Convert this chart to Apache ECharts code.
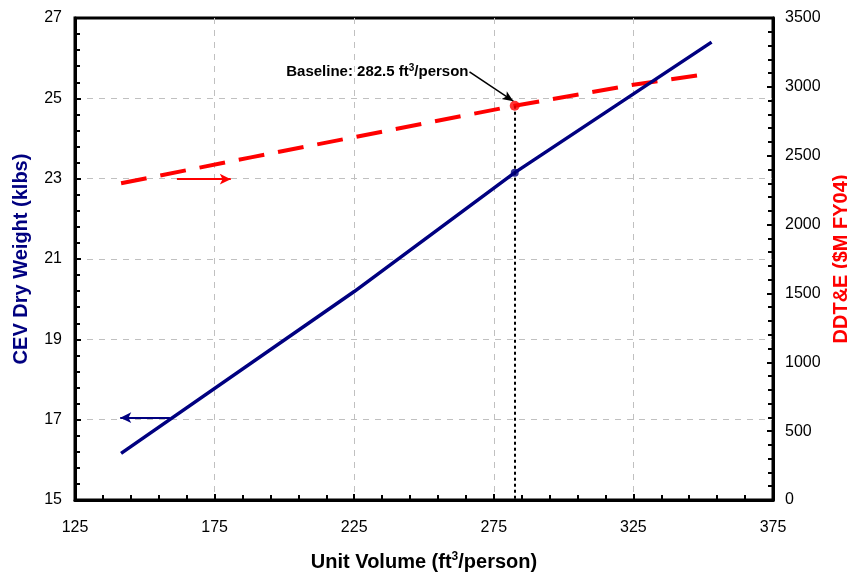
<!DOCTYPE html>
<html><head><meta charset="utf-8">
<script src="https://cdn.jsdelivr.net/npm/echarts@6/dist/echarts.min.js"></script>
<style>html,body{margin:0;padding:0;background:#fff}#c{width:847px;height:577px}</style>
</head><body><div id="c"></div>
<script>
// ---- data ----
const volumeTicks = [125, 175, 225, 275, 325, 375];
const weightTicks = [15, 17, 19, 21, 23, 25, 27];
const costTicks = [0, 500, 1000, 1500, 2000, 2500, 3000, 3500];

const weightVolume = [141.5, 225, 282.5, 353];
const weightKlbs   = [16.16, 20.19, 23.15, 26.4];

const costVolume = [141.5, 188, 282.5, 325, 350.5];
const costMFY04  = [2300, 2488, 2863, 3015, 3091];

const baselineVolume = 282.5;
const baselineWeight = 23.15;
const baselineCost = 2863;

// ---- chart ----
const FONT = '"Liberation Sans", Arial, sans-serif';
const NAVY = '#000080';
const RED = '#ff0000';

function axisBase(ticks) {
  return {
    min: ticks[0], max: ticks[ticks.length - 1], interval: ticks[1] - ticks[0],
    axisLine: { show: true, onZero: false, lineStyle: { color: '#000', width: 3 } },
    axisTick: { show: true, inside: true, length: 6, lineStyle: { color: '#000', width: 2 } },
    minorTick: { show: true, splitNumber: 5, length: 5, lineStyle: { color: '#000', width: 2 } },
    axisLabel: { color: '#000', fontSize: 16, fontFamily: FONT, formatter: v => String(v) },
    splitLine: { show: false }
  };
}
const gridLineStyle = { show: true, showMinLine: false, showMaxLine: false,
  lineStyle: { color: '#c0c0c0', type: [6, 6], width: 1 } };

const chart = echarts.init(document.getElementById('c'), null, { renderer: 'canvas' });

const xAxis = Object.assign(axisBase(volumeTicks), {
  type: 'value', position: 'bottom',
  name: 'Unit Volume (ft{sup|3}/person)', nameLocation: 'middle', nameGap: 51,
  nameTextStyle: {
    fontSize: 20, fontWeight: 'bold', color: '#000', fontFamily: FONT,
    rich: { sup: { fontSize: 12, fontWeight: 'bold', color: '#000', fontFamily: FONT, verticalAlign: 'top', padding: [0, 0, 10, 0] } }
  },
  splitLine: gridLineStyle
});
xAxis.axisLabel.margin = 20;

const yLeft = Object.assign(axisBase(weightTicks), {
  type: 'value', position: 'left',
  name: 'CEV Dry Weight (klbs)', nameLocation: 'middle', nameGap: 44,
  nameTextStyle: { fontSize: 20, fontWeight: 'bold', color: NAVY, fontFamily: FONT },
  splitLine: gridLineStyle
});
yLeft.axisLabel.margin = 13;

const yRight = Object.assign(axisBase(costTicks), {
  type: 'value', position: 'right',
  name: 'DDT&E ($M FY04)', nameLocation: 'middle', nameGap: 52,
  nameTextStyle: { fontSize: 20, fontWeight: 'bold', color: RED, fontFamily: FONT }
});
yRight.axisLabel.margin = 12;

const option = {
  animation: false,
  backgroundColor: '#fff',
  grid: { left: 75, right: 74, top: 18, bottom: 77, containLabel: false, outerBoundsMode: 'none',
          show: true, borderColor: '#000', borderWidth: 3, backgroundColor: 'transparent' },
  xAxis: xAxis,
  yAxis: [yLeft, yRight],
  series: [
    {
      type: 'line', name: 'DDT&E', yAxisIndex: 1, z: 3,
      data: costVolume.map((v, i) => [v, costMFY04[i]]),
      showSymbol: false, symbol: 'none',
      lineStyle: { color: RED, width: 4, type: [26, 14] },
      markLine: {
        silent: true, animation: false,
        label: { show: false },
        data: [
          [ { coord: [baselineVolume, baselineCost], symbol: 'none', lineStyle: { color: '#000', width: 2, type: [3, 3] } },
            { coord: [baselineVolume, costTicks[0]], symbol: 'none' } ],
          [ { coord: [161.5, 2330], symbol: 'none', lineStyle: { color: RED, width: 2, type: 'solid' } },
            { coord: [180.8, 2330], symbol: 'arrow', symbolSize: [8, 11] } ]
        ]
      }
    },
    {
      type: 'line', name: 'CEV Dry Weight', yAxisIndex: 0, z: 4,
      data: weightVolume.map((v, i) => [v, weightKlbs[i]]),
      showSymbol: false, symbol: 'none',
      lineStyle: { color: NAVY, width: 3.5 },
      markLine: {
        silent: true, animation: false,
        label: { show: false },
        data: [
          [ { coord: [159, 17.05], symbol: 'none', lineStyle: { color: NAVY, width: 2, type: 'solid' } },
            { coord: [141.2, 17.05], symbol: 'arrow', symbolSize: [8, 11] } ],
          [ { coord: [266.3, 25.66], symbol: 'none', lineStyle: { color: '#000', width: 1.5, type: 'solid' } },
            { coord: [282.0, 24.93], symbol: 'arrow', symbolSize: [7, 11] } ]
        ]
      },
      markPoint: {
        silent: true, animation: false,
        symbol: 'circle', symbolSize: 0,
        data: [{
          coord: [233.3, 25.66],
          label: {
            show: true, position: 'inside',
            formatter: 'Baseline: 282.5 ft{sup|3}/person',
            fontSize: 15, fontWeight: 'bold', color: '#000', fontFamily: FONT,
            rich: { sup: { fontSize: 10, fontWeight: 'bold', color: '#000', fontFamily: FONT, verticalAlign: 'top', padding: [0, 0, 8, 0] } }
          }
        }]
      }
    },
    {
      type: 'scatter', yAxisIndex: 1, z: 5,
      data: [[baselineVolume, baselineCost]],
      symbolSize: 10, itemStyle: { color: RED }
    },
    {
      type: 'scatter', yAxisIndex: 0, z: 5,
      data: [[baselineVolume, baselineWeight]],
      symbolSize: 8, itemStyle: { color: NAVY }
    }
  ]
};
chart.setOption(option);
</script>
</body></html>
